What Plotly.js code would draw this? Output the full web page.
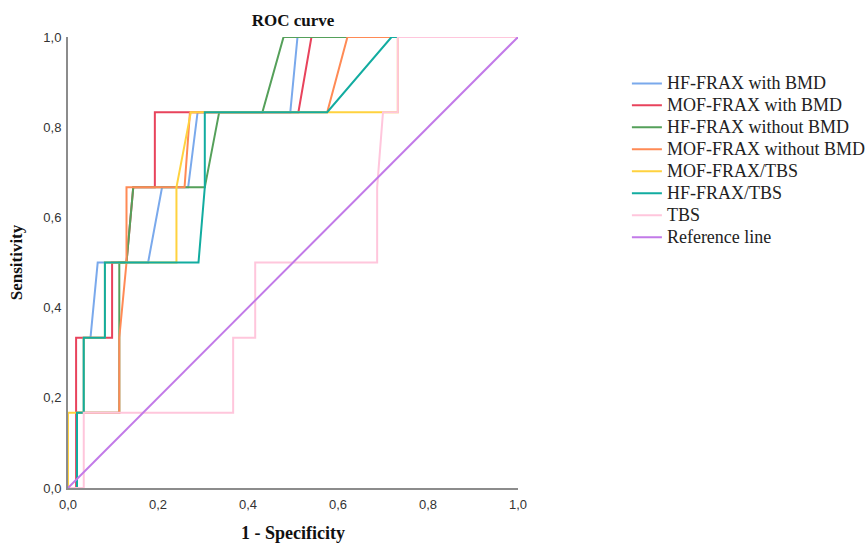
<!DOCTYPE html>
<html>
<head>
<meta charset="utf-8">
<script src="https://cdn.plot.ly/plotly-3.0.1.min.js"></script>
<style>html,body{margin:0;padding:0;background:#fff;}#chart{width:866px;height:543px;}</style>
</head>
<body>
<div id="chart"></div>
<script>
// Series names (legend order)
var seriesNames = ["HF-FRAX with BMD", "MOF-FRAX with BMD", "HF-FRAX without BMD", "MOF-FRAX without BMD", "MOF-FRAX/TBS", "HF-FRAX/TBS", "TBS", "Reference line"];

// 1 - Specificity (x) and Sensitivity (y) for each curve
var hfBmdX   = [0, 0.02, 0.02, 0.035, 0.035, 0.05, 0.066, 0.178, 0.209, 0.267, 0.288, 0.494, 0.51, 1];
var hfBmdY   = [0, 0, 0.1667, 0.1667, 0.3333, 0.3333, 0.5, 0.5, 0.6667, 0.6667, 0.8333, 0.8333, 1, 1];

var mofBmdX  = [0, 0.018, 0.018, 0.098, 0.098, 0.13, 0.145, 0.193, 0.193, 0.512, 0.541, 1];
var mofBmdY  = [0, 0, 0.3333, 0.3333, 0.5, 0.5, 0.6667, 0.6667, 0.8333, 0.8333, 1, 1];

var hfNoBmdX = [0, 0.02, 0.02, 0.114, 0.114, 0.13, 0.145, 0.304, 0.336, 0.432, 0.479, 1];
var hfNoBmdY = [0, 0, 0.1667, 0.1667, 0.5, 0.5, 0.6667, 0.6667, 0.8333, 0.8333, 1, 1];

var mofNoBmdX = [0, 0.02, 0.02, 0.114, 0.114, 0.13, 0.13, 0.259, 0.271, 0.576, 0.621, 1];
var mofNoBmdY = [0, 0, 0.1667, 0.1667, 0.3333, 0.5, 0.6667, 0.6667, 0.8333, 0.8333, 1, 1];

var mofTbsX  = [0, 0, 0.035, 0.035, 0.082, 0.082, 0.241, 0.241, 0.273, 0.7, 0.733, 0.733, 1];
var mofTbsY  = [0, 0.1667, 0.1667, 0.3333, 0.3333, 0.5, 0.5, 0.6667, 0.8333, 0.8333, 0.8333, 1, 1];

var hfTbsX   = [0, 0.02, 0.02, 0.035, 0.035, 0.082, 0.082, 0.29, 0.304, 0.304, 0.576, 0.719, 1];
var hfTbsY   = [0, 0, 0.1667, 0.1667, 0.3333, 0.3333, 0.5, 0.5, 0.6667, 0.8333, 0.8333, 1, 1];

var tbsX     = [0, 0.035, 0.035, 0.367, 0.367, 0.416, 0.416, 0.687, 0.687, 0.7, 0.733, 0.733, 1];
var tbsY     = [0, 0, 0.1667, 0.1667, 0.3333, 0.3333, 0.5, 0.5, 0.6667, 0.8333, 0.8333, 1, 1];

var refX     = [0, 1];
var refY     = [0, 1];

var tickVals   = [0, 0.2, 0.4, 0.6, 0.8, 1.0];
var tickLabels = ["0,0", "0,2", "0,4", "0,6", "0,8", "1,0"];

var colors = ["#7aa9ec", "#e8435c", "#55a05a", "#ff8a55", "#ffd23f", "#12aca0", "#ffc6dc", "#c27ae8"];

var xs = [hfBmdX, mofBmdX, hfNoBmdX, mofNoBmdX, mofTbsX, hfTbsX, tbsX, refX];
var ys = [hfBmdY, mofBmdY, hfNoBmdY, mofNoBmdY, mofTbsY, hfTbsY, tbsY, refY];

var traces = seriesNames.map(function(n, i) {
  return {x: xs[i], y: ys[i], name: '<span style="font-size:18px">' + n + '</span>',
          type: "scatter", mode: "lines",
          line: {color: colors[i], width: 2}, hoverinfo: "skip"};
});

var serif = "Liberation Serif, Times New Roman, serif";
var sans = "Liberation Sans, Arial, sans-serif";

var layout = {
  width: 866, height: 543,
  margin: {l: 68, r: 348, t: 37, b: 55, pad: 0, autoexpand: false},
  paper_bgcolor: "#fff", plot_bgcolor: "#fff",
  title: {text: "<b>ROC curve</b>", font: {family: serif, size: 17, color: "#111"},
          x: 293/866, xanchor: "center", y: 1 - 20/543, yanchor: "middle", xref: "container", yref: "container"},
  xaxis: {range: [0, 1], tickvals: tickVals, ticktext: tickLabels, showgrid: false, zeroline: false,
          showline: true, linecolor: "#8c8c8c", linewidth: 2, ticks: "",
          tickfont: {family: sans, size: 13, color: "#333"}, ticklabelstandoff: 3,
          title: {text: "<b>1 - Specificity</b>", font: {family: serif, size: 18, color: "#111"}, standoff: 18},
          automargin: false, fixedrange: true},
  yaxis: {range: [0, 1], tickvals: tickVals, ticktext: tickLabels, showgrid: false, zeroline: false,
          showline: true, linecolor: "#8c8c8c", linewidth: 2, ticks: "",
          tickfont: {family: sans, size: 13, color: "#333"}, ticklabelstandoff: 2,
          title: {text: "<b>Sensitivity</b>", font: {family: serif, size: 17, color: "#111"}, standoff: 16},
          automargin: false, fixedrange: true},
  showlegend: true,
  legend: {x: 1.242, xanchor: "left", y: 0.9326, yanchor: "top", font: {family: serif, size: 14.6, color: "#222"},
           bgcolor: "rgba(0,0,0,0)", borderwidth: 0, tracegroupgap: 0, itemwidth: 30},
};

Plotly.newPlot("chart", traces, layout, {staticPlot: true, displayModeBar: false});
</script>
</body>
</html>
